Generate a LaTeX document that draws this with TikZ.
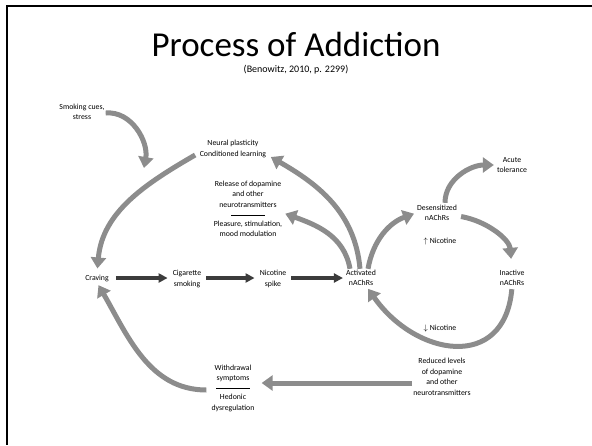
\documentclass[tikz,border=0pt]{standalone}
\usepackage{fontspec}
\setmainfont{Carlito}
\usepackage{xcolor}
\usetikzlibrary{arrows.meta, positioning}

\definecolor{arcgray}{RGB}{140,140,140}
\definecolor{rowdark}{RGB}{60,60,60}

\tikzset{
  lbl/.style={font=\fontsize{7.8}{10.5}\selectfont, align=center, inner sep=1pt},
  grayarrow/.style={draw=arcgray, line width=5pt, -{Triangle[width=15pt,length=11pt]}},
  darkarrow/.style={draw=rowdark, line width=3.5pt, -{Triangle[width=9pt,length=9pt]}}
}

\begin{document}
\begin{tikzpicture}[x=1pt,y=1pt]
   \useasboundingbox (0,0) rectangle (592,-445);
   % slide frame
   \draw[line width=2.5pt] (592,-6) -- (7,-6) -- (7,-445);

   \node[font=\fontsize{35}{40}\selectfont, inner sep=0pt] (title) at (296,-44) {Process of Addiction};
   \node[font=\fontsize{10}{12}\selectfont, inner sep=1pt] (cite) [below=8pt of title] {(Benowitz, 2010, p. 2299)};

   \node[lbl] (cues) at (82,-112) {Smoking cues,\\stress};
   \node[lbl] (neural) at (233,-149) {Neural plasticity\\Conditioned learning};
   \node[lbl] (release) at (248,-209) {Release of dopamine\\and other\\neurotransmitters\\[-2pt]\rule{34pt}{0.7pt}\\Pleasure, stimulation,\\mood modulation};
   \node[lbl] (craving) at (97,-278) {Craving};
   \node[lbl] (cig) at (187,-279) {Cigarette\\smoking};
   \node[lbl] (spike) at (273,-279) {Nicotine\\spike};
   \node[lbl] (act) at (361,-278) {Activated\\nAChRs};
   \node[lbl] (desens) at (437,-213) {Desensitized\\nAChRs};
   \node[lbl] (acute) at (512,-165) {Acute\\tolerance};
   \node[lbl] (upnic) at (440,-241) {$\uparrow$ Nicotine};
   \node[lbl] (inact) at (512,-278) {Inactive\\nAChRs};
   \node[lbl] (downnic) at (440,-328) {$\downarrow$ Nicotine};
   \node[lbl] (reduced) at (442,-377) {Reduced levels\\of dopamine\\and other\\neurotransmitters};
   \node[lbl] (withdr) at (233,-388) {Withdrawal\\symptoms\\[-2pt]\rule{34pt}{0.7pt}\\Hedonic\\dysregulation};

   \coordinate (cuesend) at (144,-168);

   % main row
   \draw[darkarrow, shorten <=6pt, shorten >=4pt] (craving.east) -- (cig.west |- craving.east);
   \draw[darkarrow, shorten <=4pt, shorten >=4pt] (cig.east |- craving.east) -- (spike.west |- craving.east);
   \draw[darkarrow, shorten <=4pt, shorten >=2pt] (spike.east |- craving.east) -- (act.west |- craving.east);

   % outer loop
   \draw[grayarrow] ([yshift=-1pt]cues.east) to[out=5,in=80] (cuesend);
   \draw[grayarrow, shorten <=4pt, shorten >=5pt] ([yshift=-4pt]neural.west) to[out=210,in=85] (craving.north);
   \draw[grayarrow, shorten >=4pt] ([xshift=-1pt]act.north) to[out=95,in=-30] ([yshift=-6pt]neural.east);
   \draw[grayarrow, shorten >=2pt] ([xshift=-11pt]act.north) to[out=100,in=-20] ([yshift=-4pt]release.east);
   \draw[grayarrow, shorten <=4pt, shorten >=3pt] ([yshift=-2pt]withdr.west) to[out=180,in=-60] (craving.south);
   \draw[grayarrow, shorten >=6pt] ([yshift=-6pt]reduced.west) -- ([yshift=5pt]withdr.east);

   % receptor cycle
   \draw[grayarrow, shorten >=2pt] ([xshift=7pt]act.north) to[out=80,in=200] (desens.west);
   \draw[grayarrow, shorten <=1pt, shorten >=2pt] ([xshift=8pt]desens.north) to[out=90,in=180] (acute.west);
   \draw[grayarrow, shorten <=3pt, shorten >=10pt] ([yshift=-3pt]desens.east) to[out=-10,in=95] (inact.north);
   \draw[grayarrow, shorten <=2pt, shorten >=2pt] (inact.south) to[out=-95,in=-55,looseness=1.5] ([xshift=6pt]act.south);
\end{tikzpicture}
\end{document}
